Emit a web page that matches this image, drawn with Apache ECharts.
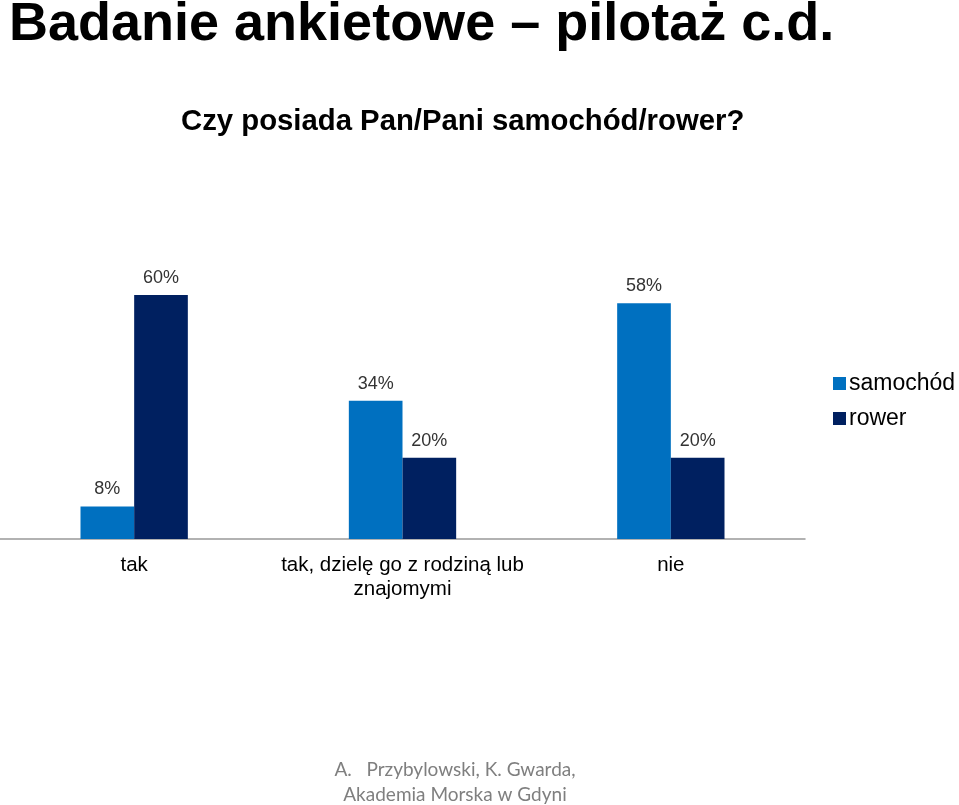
<!DOCTYPE html>
<html><head><meta charset="utf-8">
<script src="https://cdn.jsdelivr.net/npm/echarts@6/dist/echarts.min.js"></script>
<style>html,body{margin:0;padding:0;background:#fff}#c{width:959px;height:805px}</style>
</head><body><div id="c"></div>
<script>
const categories = ['tak', 'tak, dzielę go z rodziną lub\nznajomymi', 'nie'];
const samochod = [8, 34, 58];
const rower = [60, 20, 20];
const seriesNames = ['samochód', 'rower'];

const chart = echarts.init(document.getElementById('c'), null, {renderer: 'canvas'});
const labelStyle = {show: true, position: 'top', distance: 8, formatter: '{c}%',
  color: '#333', fontSize: 18, fontFamily: 'Liberation Sans'};
chart.setOption({
  animation: false,
  title: [
    {text: 'Badanie ankietowe – pilotaż c.d.', left: 4, top: -7,
     textStyle: {fontFamily: 'Liberation Sans', fontWeight: 'bold', fontSize: 54, color: '#000'}},
    {text: 'Czy posiada Pan/Pani samochód/rower?', left: 176, top: 102,
     textStyle: {fontFamily: 'Liberation Sans', fontWeight: 'bold', fontSize: 29.3, color: '#000'}},
    {text: 'A.   Przybylowski, K. Gwarda,\nAkademia Morska w Gdyni', left: 450, top: 752, textAlign: 'center',
     textStyle: {fontFamily: 'Lato', fontWeight: 'normal', fontSize: 19, lineHeight: 25, color: '#7f7f7f'}}
  ],
  legend: {
    orient: 'vertical', left: 828, top: 367, itemWidth: 13, itemHeight: 13, itemGap: 12,
    icon: 'rect',
    textStyle: {fontFamily: 'Liberation Sans', fontSize: 23, color: '#000', padding: [0,0,0,-2]},
    data: seriesNames
  },
  grid: {left: 0, right: 154, top: 295, bottom: 266, containLabel: false},
  xAxis: {
    type: 'category', data: categories,
    axisLine: {lineStyle: {color: '#999', width: 1.5}},
    axisTick: {show: false},
    axisLabel: {fontFamily: 'Liberation Sans', fontSize: 20.5, color: '#000', margin: 14, lineHeight: 24, interval: 0}
  },
  yAxis: {type: 'value', min: 0, max: 60, show: false, splitLine: {show: false}},
  series: [
    {name: seriesNames[0], type: 'bar', data: samochod, barGap: '0%', barCategoryGap: '60%',
     itemStyle: {color: '#0070C0'}, label: labelStyle},
    {name: seriesNames[1], type: 'bar', data: rower, barGap: '0%', barCategoryGap: '60%',
     itemStyle: {color: '#002060'}, label: labelStyle}
  ]
});
</script></body></html>
